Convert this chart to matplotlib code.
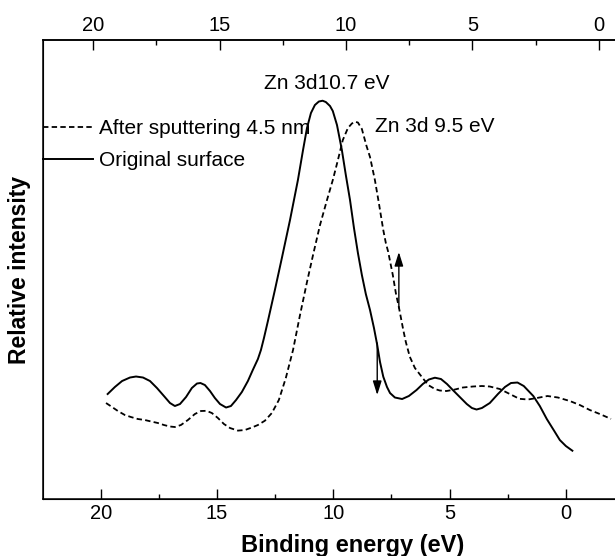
import matplotlib
matplotlib.use('Agg')
from matplotlib import pyplot as plt
from matplotlib.ticker import MultipleLocator

plt.rcParams['font.family'] = ['Liberation Sans', 'DejaVu Sans']

# Zn 3d valence band spectra, binding energy (eV) vs relative intensity (a.u.)
original_energy = [19.70, 19.39, 19.08, 18.74, 18.48, 18.18, 17.88, 17.58,
                   17.28, 17.02, 16.81, 16.59, 16.33, 16.08, 15.86, 15.71,
                   15.52, 15.30, 15.09, 14.87, 14.61, 14.40, 14.18, 13.93,
                   13.67, 13.46, 13.24, 13.11, 12.98, 12.81, 12.51, 12.21,
                   11.86, 11.52, 11.30, 11.13, 10.96, 10.79, 10.62, 10.46,
                   10.32, 10.14, 10.02, 9.84, 9.63, 9.46, 9.28, 9.11, 8.94,
                   8.77, 8.60, 8.42, 8.25, 8.11, 7.99, 7.85, 7.69, 7.56,
                   7.35, 7.04, 6.75, 6.42, 6.15, 5.89, 5.63, 5.37, 5.11,
                   4.86, 4.56, 4.26, 4.04, 3.84, 3.61, 3.27, 2.92, 2.62,
                   2.36, 2.08, 1.81, 1.40, 1.12, 0.82, 0.49, 0.26, 0.00,
                   -0.28]
original_intensity = [1.05, 1.12, 1.18, 1.215, 1.225, 1.215, 1.18, 1.11,
                      1.03, 0.96, 0.93, 0.95, 1.02, 1.11, 1.155, 1.16,
                      1.14, 1.08, 1.01, 0.95, 0.915, 0.93, 0.99, 1.07,
                      1.18, 1.29, 1.40, 1.49, 1.61, 1.78, 2.09, 2.41,
                      2.79, 3.19, 3.49, 3.71, 3.86, 3.94, 3.975, 3.983,
                      3.97, 3.93, 3.88, 3.74, 3.49, 3.24, 2.99, 2.71, 2.46,
                      2.24, 2.05, 1.89, 1.71, 1.54, 1.37, 1.223, 1.12, 1.06,
                      1.015, 1.00, 1.03, 1.09, 1.15, 1.195, 1.213, 1.20, 1.15,
                      1.09, 1.02, 0.95, 0.91, 0.895, 0.91, 0.96, 1.05, 1.12,
                      1.16, 1.165, 1.13, 1.03, 0.93, 0.80, 0.677, 0.59, 0.53,
                      0.483]

sputtered_energy = [19.77, 19.51, 19.26, 18.96, 18.70, 18.40, 18.10, 17.79,
                    17.54, 17.28, 17.02, 16.81, 16.55, 16.25, 15.95, 15.69,
                    15.45, 15.22, 14.96, 14.70, 14.44, 14.10, 13.80, 13.50,
                    13.24, 12.94, 12.64, 12.34, 12.04, 11.73, 11.43, 11.13,
                    10.87, 10.57, 10.27, 10.02, 9.80, 9.59, 9.37, 9.20, 9.07,
                    8.94, 8.77, 8.57, 8.42, 8.21, 8.04, 7.85, 7.74, 7.64,
                    7.44, 7.31, 7.17, 6.99, 6.88, 6.71, 6.49, 6.20, 5.92,
                    5.63, 5.42, 5.13, 4.77, 4.43, 4.00, 3.61, 3.27, 2.84,
                    2.41, 2.00, 1.63, 1.25, 0.79, 0.34, -0.17, -0.60, -1.03,
                    -1.46, -1.94]
sputtered_intensity = [0.96, 0.92, 0.88, 0.84, 0.82, 0.80, 0.79, 0.773,
                       0.76, 0.74, 0.725, 0.72, 0.74, 0.79, 0.85, 0.88,
                       0.882, 0.86, 0.81, 0.75, 0.71, 0.684, 0.69, 0.715,
                       0.74, 0.783, 0.86, 0.99, 1.21, 1.49, 1.84, 2.17,
                       2.44, 2.74, 2.99, 3.19, 3.39, 3.59, 3.71, 3.755, 3.773,
                       3.765, 3.70, 3.53, 3.42, 3.19, 2.96, 2.69, 2.56, 2.473,
                       2.24, 2.06, 1.907, 1.69, 1.57, 1.423, 1.31, 1.223, 1.14,
                       1.10, 1.085, 1.08, 1.095, 1.115, 1.125, 1.13, 1.125, 1.10,
                       1.05, 1.002, 0.995, 1.01, 1.03, 1.015, 0.98, 0.94, 0.89,
                       0.85, 0.801]

peak_labels = ['Zn 3d10.7 eV', 'Zn 3d 9.5 eV']
series_labels = ['After sputtering 4.5 nm', 'Original surface']
tick_values = [20, 15, 10, 5, 0]

fig = plt.figure(figsize=(6.15, 5.56), dpi=100)
ax = fig.add_axes([0.0704, 0.1025, 0.97, 0.8255])

dashed, = ax.plot(sputtered_energy, sputtered_intensity, color='black',
                  lw=1.3, linestyle=(0, (3, 1.8)))
solid, = ax.plot(original_energy, original_intensity, color='black', lw=1.4)

ax.set_xlim(22.467, -3.181)
ax.set_ylim(0, 4.59)
ax.set_yticks([])
ax.xaxis.set_major_locator(MultipleLocator(5))
ax.xaxis.set_minor_locator(MultipleLocator(2.5))
ax.tick_params(axis='x', which='major', direction='in', length=7.5,
               width=1, labelsize=14.5)
ax.tick_params(axis='x', which='minor', direction='in', length=3.5, width=1)
ax.spines['right'].set_visible(False)
for side in ['left', 'bottom', 'top']:
    ax.spines[side].set_linewidth(1.1)

top = ax.twiny()
top.set_xlim(21.978, -1.622)
top.set_xticks(tick_values)
top.xaxis.set_minor_locator(MultipleLocator(2.5))
top.tick_params(axis='x', which='major', direction='in', length=7.5,
                width=1, labelsize=14.5)
top.tick_params(axis='x', which='minor', direction='in', length=3.5, width=1)
top.spines['right'].set_visible(False)
top.spines['top'].set_linewidth(1.1)

ax.set_xlabel('Binding energy (eV)', fontsize=17, fontweight='bold')
ax.xaxis.set_label_coords(0.518, -0.077, transform=ax.transAxes)
ax.xaxis.label.set_va('top')
ax.set_ylabel('Relative intensity', fontsize=16.5, fontweight='bold',
              labelpad=8.5)

ax.text(10.27, 4.16, peak_labels[0], fontsize=15, ha='center', va='center')
ax.text(8.21, 3.73, peak_labels[1], fontsize=15, ha='left', va='center')

arrow = dict(arrowstyle='-|>,head_length=0.7,head_width=0.22', color='black',
             lw=1, shrinkA=0, shrinkB=0, mutation_scale=12)
ax.annotate('', xy=(8.11, 1.04), xytext=(8.11, 1.56), arrowprops=arrow)
ax.annotate('', xy=(7.18, 2.47), xytext=(7.18, 1.91), arrowprops=arrow)

ax.legend([dashed, solid], series_labels, loc='upper left',
          bbox_to_anchor=(0.0, 0.828), frameon=False, fontsize=15,
          handlelength=2.4, handletextpad=0.25, labelspacing=0.64,
          borderaxespad=0, borderpad=0)

fig.savefig('out.png', dpi=100)
